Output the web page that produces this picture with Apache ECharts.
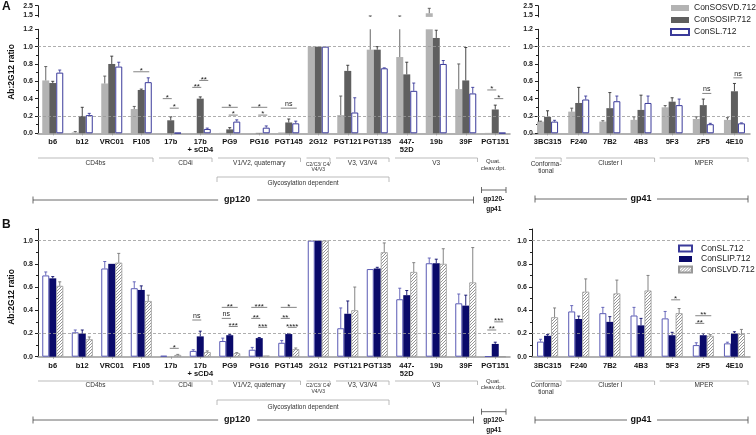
<!DOCTYPE html>
<html><head><meta charset="utf-8">
<script src="https://cdn.jsdelivr.net/npm/echarts@6/dist/echarts.min.js"></script>
<style>html,body{margin:0;padding:0;background:#fff}#c{width:756px;height:435px}</style>
</head><body><div id="c"></div>
<script>
// ---------- DATA ----------
const catsLeft = ['b6','b12','VRC01','F105','17b','17b\n+ sCD4','PG9','PG16','PGT145','2G12','PGT121','PGT135','447-\n52D','19b','39F','PGT151'];
const catsRight = ['3BC315','F240','7B2','4B3','5F3','2F5','4E10'];

// Panel A (left)
const aVD_L     = [0.61,0.01,0.575,0.28,0,0,0.005,0,0.01,1.0,0.21,0.965,0.88,1.69,0.51,0.005];
const aVD_L_err = [0.16,0.01,0.085,0.03,0,0,0,0,0,0,0.22,0.44,0.52,0.53,0.29,0];
const aIP_L     = [0.58,0.20,0.80,0.50,0.15,0.40,0.045,0.005,0.125,1.0,0.72,0.965,0.68,1.10,0.61,0.275];
const aIP_L_err = [0.02,0.10,0.09,0.01,0.04,0.02,0.02,0,0.04,0,0.065,0.035,0.14,0.09,0.38,0.05];
const aSL_L     = [0.70,0.21,0.77,0.59,0.005,0.05,0.135,0.065,0.115,1.0,0.24,0.75,0.49,0.80,0.46,0.005];
const aSL_L_err = [0.03,0.02,0.05,0.05,0,0.01,0.02,0.02,0.025,0,0.17,0.005,0.09,0.04,0.07,0];
// Panel A (right)
const aVD_R     = [0.135,0.25,0.135,0.155,0.30,0.165,0.155];
const aVD_R_err = [0.005,0.04,0.01,0.035,0.02,0.025,0.025];
const aIP_R     = [0.19,0.35,0.29,0.27,0.365,0.325,0.485];
const aIP_R_err = [0.07,0.18,0.18,0.17,0.045,0.07,0.09];
const aSL_R     = [0.135,0.39,0.37,0.35,0.325,0.105,0.115];
const aSL_R_err = [0.015,0.04,0.06,0.08,0.07,0.01,0.005];
// Panel B (left)
const bSL_L     = [0.70,0.21,0.76,0.59,0.008,0.05,0.135,0.06,0.12,1.0,0.245,0.755,0.495,0.805,0.46,0.003];
const bSL_L_err = [0.03,0.02,0.06,0.055,0,0.01,0.025,0.02,0.02,0,0.175,0,0.095,0.045,0.08,0];
const bIP_L     = [0.675,0.20,0.80,0.575,0,0.175,0.185,0.16,0.195,1.0,0.37,0.76,0.53,0.805,0.44,0.11];
const bIP_L_err = [0.015,0.03,0,0.035,0,0.045,0.005,0.005,0.005,0,0.11,0.01,0.04,0.035,0.09,0.015];
const bVD_L     = [0.61,0.15,0.81,0.48,0.015,0.04,0.03,0.01,0.065,1.0,0.40,0.90,0.73,0.80,0.64,0];
const bVD_L_err = [0.035,0.02,0.08,0.05,0.005,0.01,0.005,0,0.01,0,0.20,0.08,0.08,0.13,0.30,0];
// Panel B (right)
const bSL_R     = [0.13,0.39,0.375,0.355,0.33,0.10,0.115];
const bSL_R_err = [0.02,0.05,0.05,0.07,0.06,0.02,0.01];
const bIP_R     = [0.18,0.325,0.30,0.27,0.185,0.185,0.20];
const bIP_R_err = [0.01,0.025,0.045,0.06,0.025,0.015,0.015];
const bVD_R     = [0.34,0.56,0.545,0.57,0.375,0.18,0.195];
const bVD_R_err = [0.08,0.11,0.115,0.13,0.04,0.01,0.04];

// significance: [category, barFrom, barTo, y, label]
const sigA_L = [[3,0,2,0.71,'*'],[4,0,1,0.40,'*'],[4,1,2,0.29,'*'],[5,0,1,0.53,'**'],[5,1,2,0.61,'**'],
  [6,0,2,0.30,'*'],[6,1,2,0.21,'*'],[7,0,2,0.30,'*'],[7,1,2,0.21,'*'],[8,0,2,0.29,'ns'],[15,0,1,0.50,'*'],[15,1,2,0.40,'*']];
const sigA_R = [[5,1,2,0.46,'ns'],[6,1,2,0.64,'ns']];
const sigB_L = [[4,1,2,0.072,'*'],[5,0,1,0.316,'ns'],
  [6,0,2,0.425,'**'],[6,0,1,0.33,'ns'],[6,1,2,0.26,'***'],
  [7,0,2,0.425,'***'],[7,0,1,0.33,'**'],[7,1,2,0.253,'***'],
  [8,0,2,0.425,'*'],[8,0,1,0.33,'**'],[8,1,2,0.253,'****'],
  [15,0,1,0.23,'**'],[15,1,2,0.30,'***']];
const sigB_R = [[4,1,2,0.49,'*'],[5,0,2,0.353,'**'],[5,0,1,0.287,'**']];

// ---------- CHART ----------
const FONT = '"Liberation Sans", Arial, Helvetica, sans-serif';
const BW = 7;
const chart = echarts.init(document.getElementById('c'), null, {renderer:'canvas'});

const pc = document.createElement('canvas'); pc.width = 3; pc.height = 3;
const cx2 = pc.getContext('2d');
cx2.fillStyle = '#fff'; cx2.fillRect(0,0,3,3);
cx2.strokeStyle = '#8a8a8a'; cx2.lineWidth = 0.9;
cx2.beginPath(); cx2.moveTo(0,3); cx2.lineTo(3,0); cx2.moveTo(-1,1); cx2.lineTo(1,-1); cx2.moveTo(2,4); cx2.lineTo(4,2); cx2.stroke();
const hatch = {image: pc, repeat: 'repeat'};

const ST = {
  aVD: {style:{color:'#b3b3b3'}, ec:'#555'},
  aIP: {style:{color:'#5f5f5f'}, ec:'#333'},
  aSL: {style:{color:'#fff', borderColor:'#3a3a9a', borderWidth:1}, ec:'#3a3a9a'},
  bSL: {style:{color:'#fff', borderColor:'#5a5ab4', borderWidth:1}, ec:'#5a5ab4'},
  bIP: {style:{color:'#0a0a6a'}, ec:'#0a0a6a'},
  bVD: {style:{color:hatch, borderColor:'#999', borderWidth:0.8}, ec:'#777'}
};

const MARK = {silent:true, symbol:'none', label:{show:false}, animation:false,
  lineStyle:{type:[3,2], color:'#999', width:0.8}, data:[{yAxis:0.2},{yAxis:1.0}]};

function errRender(k, color){
  return function(params, api){
    const e = api.value(2); if (!e) return null;
    const c = api.value(0), v = api.value(1);
    const p0 = api.coord([c, v]), p1 = api.coord([c, v + e]);
    const x = p0[0] + (k - 1) * BW;
    return {type:'group', children:[
      {type:'line', shape:{x1:x,y1:p0[1],x2:x,y2:p1[1]}, style:{stroke:color, lineWidth:0.9}},
      {type:'line', shape:{x1:x-1.5,y1:p1[1],x2:x+1.5,y2:p1[1]}, style:{stroke:color, lineWidth:0.9}}
    ]};
  };
}

const series = [];
function addSet(g, defs, mark){
  defs.forEach((d,k)=>{
    const s = {type:'bar', name:d.name, xAxisIndex:g, yAxisIndex:g, data:d.vals, barWidth:BW, barGap:'0%',
      itemStyle:d.st.style, emphasis:{disabled:true}, silent:true, clip:true};
    if (mark && k === 0) s.markLine = MARK;
    series.push(s);
  });
  defs.forEach((d,k)=>{
    series.push({type:'custom', name:d.name, xAxisIndex:g, yAxisIndex:g, clip:true, silent:true, z:3,
      data:d.vals.map((v,i)=>[i, v, d.errs[i]]), encode:{x:0, y:1}, renderItem:errRender(k, d.st.ec)});
  });
}
const defAL = [{name:'ConSOSVD.712', vals:aVD_L, errs:aVD_L_err, st:ST.aVD},
               {name:'ConSOSIP.712', vals:aIP_L, errs:aIP_L_err, st:ST.aIP},
               {name:'ConSL.712', vals:aSL_L, errs:aSL_L_err, st:ST.aSL}];
const defAR = [{name:'ConSOSVD.712', vals:aVD_R, errs:aVD_R_err, st:ST.aVD},
               {name:'ConSOSIP.712', vals:aIP_R, errs:aIP_R_err, st:ST.aIP},
               {name:'ConSL.712', vals:aSL_R, errs:aSL_R_err, st:ST.aSL}];
const defBL = [{name:'ConSL.712', vals:bSL_L, errs:bSL_L_err, st:ST.bSL},
               {name:'ConSLIP.712', vals:bIP_L, errs:bIP_L_err, st:ST.bIP},
               {name:'ConSLVD.712', vals:bVD_L, errs:bVD_L_err, st:ST.bVD}];
const defBR = [{name:'ConSL.712', vals:bSL_R, errs:bSL_R_err, st:ST.bSL},
               {name:'ConSLIP.712', vals:bIP_R, errs:bIP_R_err, st:ST.bIP},
               {name:'ConSLVD.712', vals:bVD_R, errs:bVD_R_err, st:ST.bVD}];
addSet(0, defAL, true); addSet(1, defAL, false);
addSet(2, defAR, true); addSet(3, defAR, false);
addSet(4, defBL, true); addSet(5, defBR, true);

const grids = [
  {left:38, width:472, top:29.3, height:104},
  {left:38, width:472, top:5.7, height:11.2},
  {left:532, width:218, top:29.3, height:104},
  {left:532, width:218, top:5.7, height:11.2},
  {left:38, width:472, top:229, height:127.7},
  {left:532, width:218, top:229, height:127.7}
].map(g=>Object.assign({outerBoundsMode:'none', containLabel:false}, g));

function xAx(g, cats, show){
  return {type:'category', gridIndex:g, data:cats, show:show,
    axisLine:{lineStyle:{color:'#999', width:1.5}},
    axisTick:{show:true, alignWithLabel:true, length:2, lineStyle:{color:'#999'}},
    axisLabel:{interval:0, fontSize:7.5, fontWeight:'bold', color:'#111', margin:5, lineHeight:8, fontFamily:FONT},
    splitLine:{show:false}};
}
const yLab = {fontSize:7, fontWeight:'bold', color:'#222', margin:5, fontFamily:FONT, formatter:v=>v.toFixed(1)};
function yLow(g, max, offset){
  return {type:'value', gridIndex:g, min:0, max:max, interval:0.2, offset:offset||0,
    axisLine:{show:true, lineStyle:{color:'#222', width:1}},
    axisTick:{show:true, length:3, lineStyle:{color:'#222'}},
    minorTick:{show:true, splitNumber:2, length:2, lineStyle:{color:'#222'}},
    axisLabel:Object.assign({showMaxLabel: max === 1.2}, yLab), splitLine:{show:false}};
}
function yUp(g, offset){
  return {type:'value', gridIndex:g, min:1.3, max:2.5, offset:offset||0,
    axisLine:{show:true, lineStyle:{color:'#222', width:1}},
    axisTick:{show:true, length:3, customValues:[1.5,2.5], lineStyle:{color:'#222'}},
    axisLabel:Object.assign({customValues:[1.5,2.5]}, yLab), splitLine:{show:false}};
}

const legendTxt = {fontSize:8.5, color:'#222', fontFamily:FONT};
const option = {
  animation:false,
  grid:grids,
  xAxis:[xAx(0,catsLeft,true), xAx(1,catsLeft,false), xAx(2,catsRight,true), xAx(3,catsRight,false), xAx(4,catsLeft,true), xAx(5,catsRight,true)],
  yAxis:[yLow(0,1.2), yUp(1), yLow(2,1.2,-6), yUp(3,-6), yLow(4,1.1), yLow(5,1.1)],
  legend:[
    {data:['ConSOSVD.712','ConSOSIP.712','ConSL.712'], orient:'vertical', left:670, top:3.5, padding:0, itemWidth:18, itemHeight:6, itemGap:3,
     icon:'rect', textStyle:legendTxt, selectedMode:false},
    {data:['ConSL.712','ConSLIP.712','ConSLVD.712'], orient:'vertical', left:678, top:244, padding:0, itemWidth:13, itemHeight:6, itemGap:1.5,
     icon:'rect', textStyle:Object.assign({padding:[0,0,0,4]}, legendTxt), selectedMode:false}
  ],
  series:series
};
chart.setOption(option);

// ---------- DECORATION ----------
const G = [];
const TXT = (x,y,t,o)=>({type:'text', x:x, y:y, silent:true, z:10,
  style:Object.assign({text:t, fontSize:6.5, fill:'#333', align:'center', verticalAlign:'middle', fontFamily:FONT}, o||{})});
const LN = (x1,y1,x2,y2,c,w)=>({type:'line', silent:true, z:10, shape:{x1:x1,y1:y1,x2:x2,y2:y2}, style:{stroke:c||'#aaa', lineWidth:w||0.8}});

G.push(TXT(2,1,'A',{fontSize:12, fontWeight:'bold', fill:'#111', align:'left', verticalAlign:'top'}));
G.push(TXT(2,219,'B',{fontSize:12, fontWeight:'bold', fill:'#111', align:'left', verticalAlign:'top'}));
G.push(Object.assign(TXT(12,72,'Ab:2G12 ratio',{fontSize:8.5, fontWeight:'bold', fill:'#111'}),{rotation:Math.PI/2}));
G.push(Object.assign(TXT(12,297,'Ab:2G12 ratio',{fontSize:8.5, fontWeight:'bold', fill:'#111'}),{rotation:Math.PI/2}));

const SL = {l:38, w:472, n:16}, SR = {l:532, w:218, n:7};
const bx = (s,i)=>s.l + s.w/s.n*i;
const groupsLeft = [['CD4bs',0,3],['CD4i',4,5],['V1/V2, quaternary',6,8],['',9,9],['V3, V3/V4',10,11],['V3',12,14]];
const groupsRight = [['',0,0],['Cluster I',1,3],['MPER',4,6]];

function decor(P){
  groupsLeft.forEach(([t,a,b])=>{
    const x1 = bx(SL,a) + (a===0?0:3), x2 = bx(SL,b+1) - 3;
    G.push(LN(x1,P.gl,x2,P.gl)); G.push(LN(x2,P.gl,x2,P.gl+4));
    if (t) G.push(TXT((x1+x2)/2, P.gt, t));
  });
  const cx9 = (bx(SL,9)+bx(SL,10))/2;
  G.push(TXT(cx9, P.c1, 'C2/C3/ C4/', {fontSize:5}));
  G.push(TXT(cx9, P.c2, 'V4/V3', {fontSize:5}));
  const cx15 = (bx(SL,15)+bx(SL,16))/2 - 2;
  G.push(TXT(cx15, P.q1, 'Quat.', {fontSize:6}));
  G.push(TXT(cx15, P.q2, 'cleav.dpt.', {fontSize:6}));
  // glycosylation dependent
  const g1 = bx(SL,6)+2, g2 = bx(SL,12)-3;
  G.push(LN(g1,P.yl,g2,P.yl)); G.push(LN(g1,P.yl,g1,P.yl+5)); G.push(LN(g2,P.yl,g2,P.yl+5));
  G.push(TXT((g1+g2)/2, P.yt, 'Glycosylation dependent'));
  // gp120-gp41 bracket
  const q1 = bx(SL,15)+1, q2 = bx(SL,16)-4;
  G.push(LN(q1,P.bb,q2,P.bb,'#444')); G.push(LN(q1,P.bb-3,q1,P.bb+3,'#444')); G.push(LN(q2,P.bb-3,q2,P.bb+3,'#444'));
  G.push(TXT((q1+q2)/2, P.bt1, 'gp120-', {fontSize:6.5, fontWeight:'bold', fill:'#111'}));
  G.push(TXT((q1+q2)/2, P.bt2, 'gp41', {fontSize:6.5, fontWeight:'bold', fill:'#111'}));
  // gp120
  const p1 = bx(SL,0)-5, p2 = bx(SL,15)-7, pt = bx(SL,6.75);
  G.push(LN(p1,P.gp,pt-19,P.gp,'#444')); G.push(LN(pt+20,P.gp,p2,P.gp,'#444'));
  G.push(LN(p1,P.gp-3.5,p1,P.gp+3.5,'#444')); G.push(LN(p2,P.gp-3.5,p2,P.gp+3.5,'#444'));
  G.push(TXT(pt, P.gp, 'gp120', {fontSize:9, fontWeight:'bold', fill:'#111'}));
  // right groups
  groupsRight.forEach(([t,a,b])=>{
    const x1 = bx(SR,a) + 3, x2 = bx(SR,b+1) - 2;
    G.push(LN(x1,P.gl,x2,P.gl)); G.push(LN(x2,P.gl,x2,P.gl+4));
    if (t) G.push(TXT((x1+x2)/2, P.gt, t));
  });
  G.push(TXT(bx(SR,0.45), P.cf1, 'Conforma-'));
  G.push(TXT(bx(SR,0.45), P.cf2, 'tional'));
  const r1 = bx(SR,0)+3, r2 = bx(SR,7)-2, rt = 641;
  G.push(LN(r1,P.gp41,rt-14,P.gp41,'#444')); G.push(LN(rt+16,P.gp41,r2,P.gp41,'#444'));
  G.push(LN(r1,P.gp41-3.5,r1,P.gp41+3.5,'#444')); G.push(LN(r2,P.gp41-3.5,r2,P.gp41+3.5,'#444'));
  G.push(TXT(rt, P.gp41, 'gp41', {fontSize:9, fontWeight:'bold', fill:'#111'}));
}
decor({gl:158, gt:163.5, c1:164.3, c2:169.5, q1:161.7, q2:168.3, yl:177, yt:183, bb:190, bt1:199, bt2:209.5, gp:200, cf1:164, cf2:171, gp41:199});
decor({gl:381, gt:385.5, c1:386, c2:391.7, q1:381, q2:387.5, yl:400, yt:407, bb:411.7, bt1:420.5, bt2:430, gp:420, cf1:385.5, cf2:392, gp41:420});

function sig(g, list){
  list.forEach(([c,a,b,v,t])=>{
    const cx = chart.convertToPixel({xAxisIndex:g}, c);
    const y = chart.convertToPixel({yAxisIndex:g}, v);
    const x1 = cx + (a-1)*BW, x2 = cx + (b-1)*BW;
    G.push(LN(x1-1, y, x2+1, y, '#666', 0.8));
    if (t === 'ns') G.push(TXT((x1+x2)/2, y-0.5, t, {fontSize:7, fill:'#222', verticalAlign:'bottom'}));
    else G.push(TXT((x1+x2)/2, y-5, t, {fontSize:8, fill:'#222', verticalAlign:'top'}));
  });
}
sig(0, sigA_L); sig(2, sigA_R); sig(4, sigB_L); sig(5, sigB_R);

chart.setOption({graphic:G});
</script></body></html>
